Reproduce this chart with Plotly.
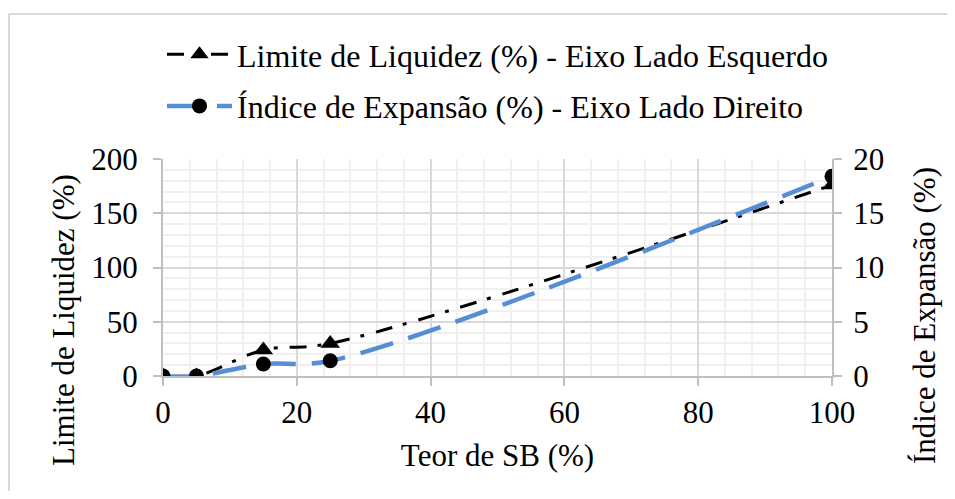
import plotly.graph_objects as go

teor_sb = [0, 5, 15, 25, 100]
limite_liquidez = [0, 0, 24, 30, 176]
indice_expansao = [0, 0, 1.1, 1.4, 18.4]

name_ll = "Limite de Liquidez (%) - Eixo Lado Esquerdo"
name_ie = "Índice de Expansão (%) - Eixo Lado Direito"
title_x = "Teor de SB (%)"
title_y1 = "Limite de Liquidez (%)"
title_y2 = "Índice de Expansão (%)"

FONT = "Liberation Serif, Times New Roman, serif"
FS = 31

fig = go.Figure()
fig.add_trace(go.Scatter(
    x=teor_sb, y=limite_liquidez, name=name_ll, yaxis="y", legendgroup="a",
    mode="lines+markers",
    line=dict(color="black", width=3, dash="17px,11px,4px,12px", shape="spline", smoothing=1),
    marker=dict(symbol="triangle-up", size=17, color="black"),
))
fig.add_trace(go.Scatter(
    x=teor_sb, y=indice_expansao, name=name_ie, yaxis="y2", legendgroup="b",
    mode="lines+markers",
    line=dict(color="#558ed5", width=4.5, dash="34px,16px", shape="spline", smoothing=1),
    marker=dict(symbol="circle", size=15, color="black"),
))

# page offset (browser body margin)
OFF = 8
W, H = 955 - 2 * OFF, 499 - 2 * OFF
# plot area in page pixels
PL, PR, PT, PB = 163, 832, 159, 376
L, T = PL - OFF, PT - OFF
R = W - (PR - OFF)
B = H - (PB - OFF)
pw, ph = PR - PL, PB - PT

def px(x):
    return (x - PL) / pw

def py(y):
    return (PB - y) / ph

grid_major = "#d9d9d9"
grid_minor = "#f0f0f0"

fig.update_layout(
    width=W, height=H,
    margin=dict(l=L, r=R, t=T, b=B, autoexpand=False),
    paper_bgcolor="white", plot_bgcolor="white",
    font=dict(family=FONT, size=FS, color="black"),
    showlegend=True,
    legend=dict(
        x=px(162), y=py(27), xanchor="left", yanchor="top",
        font=dict(family=FONT, size=32, color="black"),
        tracegroupgap=7, itemwidth=65, bgcolor="rgba(0,0,0,0)",
    ),
    xaxis=dict(
        range=[0, 100], dtick=20, tick0=0,
        showline=True, linecolor="#bfbfbf", linewidth=2,
        showgrid=True, gridcolor=grid_major, gridwidth=2,
        ticks="outside", ticklen=8, tickcolor="#bfbfbf", tickwidth=2,
        ticklabelstandoff=0,
        minor=dict(dtick=4, tick0=0, showgrid=True, gridcolor=grid_minor, gridwidth=2),
        zeroline=False,
        title=dict(text=title_x, standoff=15, font=dict(family=FONT, size=FS)),
        tickfont=dict(family=FONT, size=FS),
    ),
    yaxis=dict(
        range=[0, 200], dtick=50, tick0=0,
        showline=True, linecolor="#bfbfbf", linewidth=2,
        showgrid=True, gridcolor=grid_major, gridwidth=2,
        ticks="outside", ticklen=8, tickcolor="#bfbfbf", tickwidth=2,
        ticklabelstandoff=9,
        minor=dict(dtick=10, tick0=0, showgrid=True, gridcolor=grid_minor, gridwidth=2),
        zeroline=False,
        tickfont=dict(family=FONT, size=FS),
    ),
    yaxis2=dict(
        range=[0, 20], dtick=5, tick0=0, overlaying="y", side="right",
        showline=True, linecolor="#bfbfbf", linewidth=2,
        showgrid=False,
        ticks="outside", ticklen=8, tickcolor="#bfbfbf", tickwidth=2,
        ticklabelstandoff=5,
        zeroline=False,
        tickfont=dict(family=FONT, size=FS),
    ),
    annotations=[
        dict(text=title_y1, textangle=-90, xref="paper", yref="paper",
             x=px(63), y=py(320), xanchor="center", yanchor="middle", showarrow=False,
             font=dict(family=FONT, size=FS, color="black")),
        dict(text=title_y2, textangle=-90, xref="paper", yref="paper",
             x=px(924), y=py(316), xanchor="center", yanchor="middle", showarrow=False,
             font=dict(family=FONT, size=FS, color="black")),
    ],
    shapes=[
        dict(type="line", xref="paper", yref="paper", x0=px(9), x1=px(980), y0=py(14), y1=py(14),
             line=dict(color="#d9d9d9", width=2)),
        dict(type="line", xref="paper", yref="paper", x0=px(9), x1=px(9), y0=py(14), y1=py(520),
             line=dict(color="#d9d9d9", width=2)),
    ],
)

fig.write_html("out.html")
